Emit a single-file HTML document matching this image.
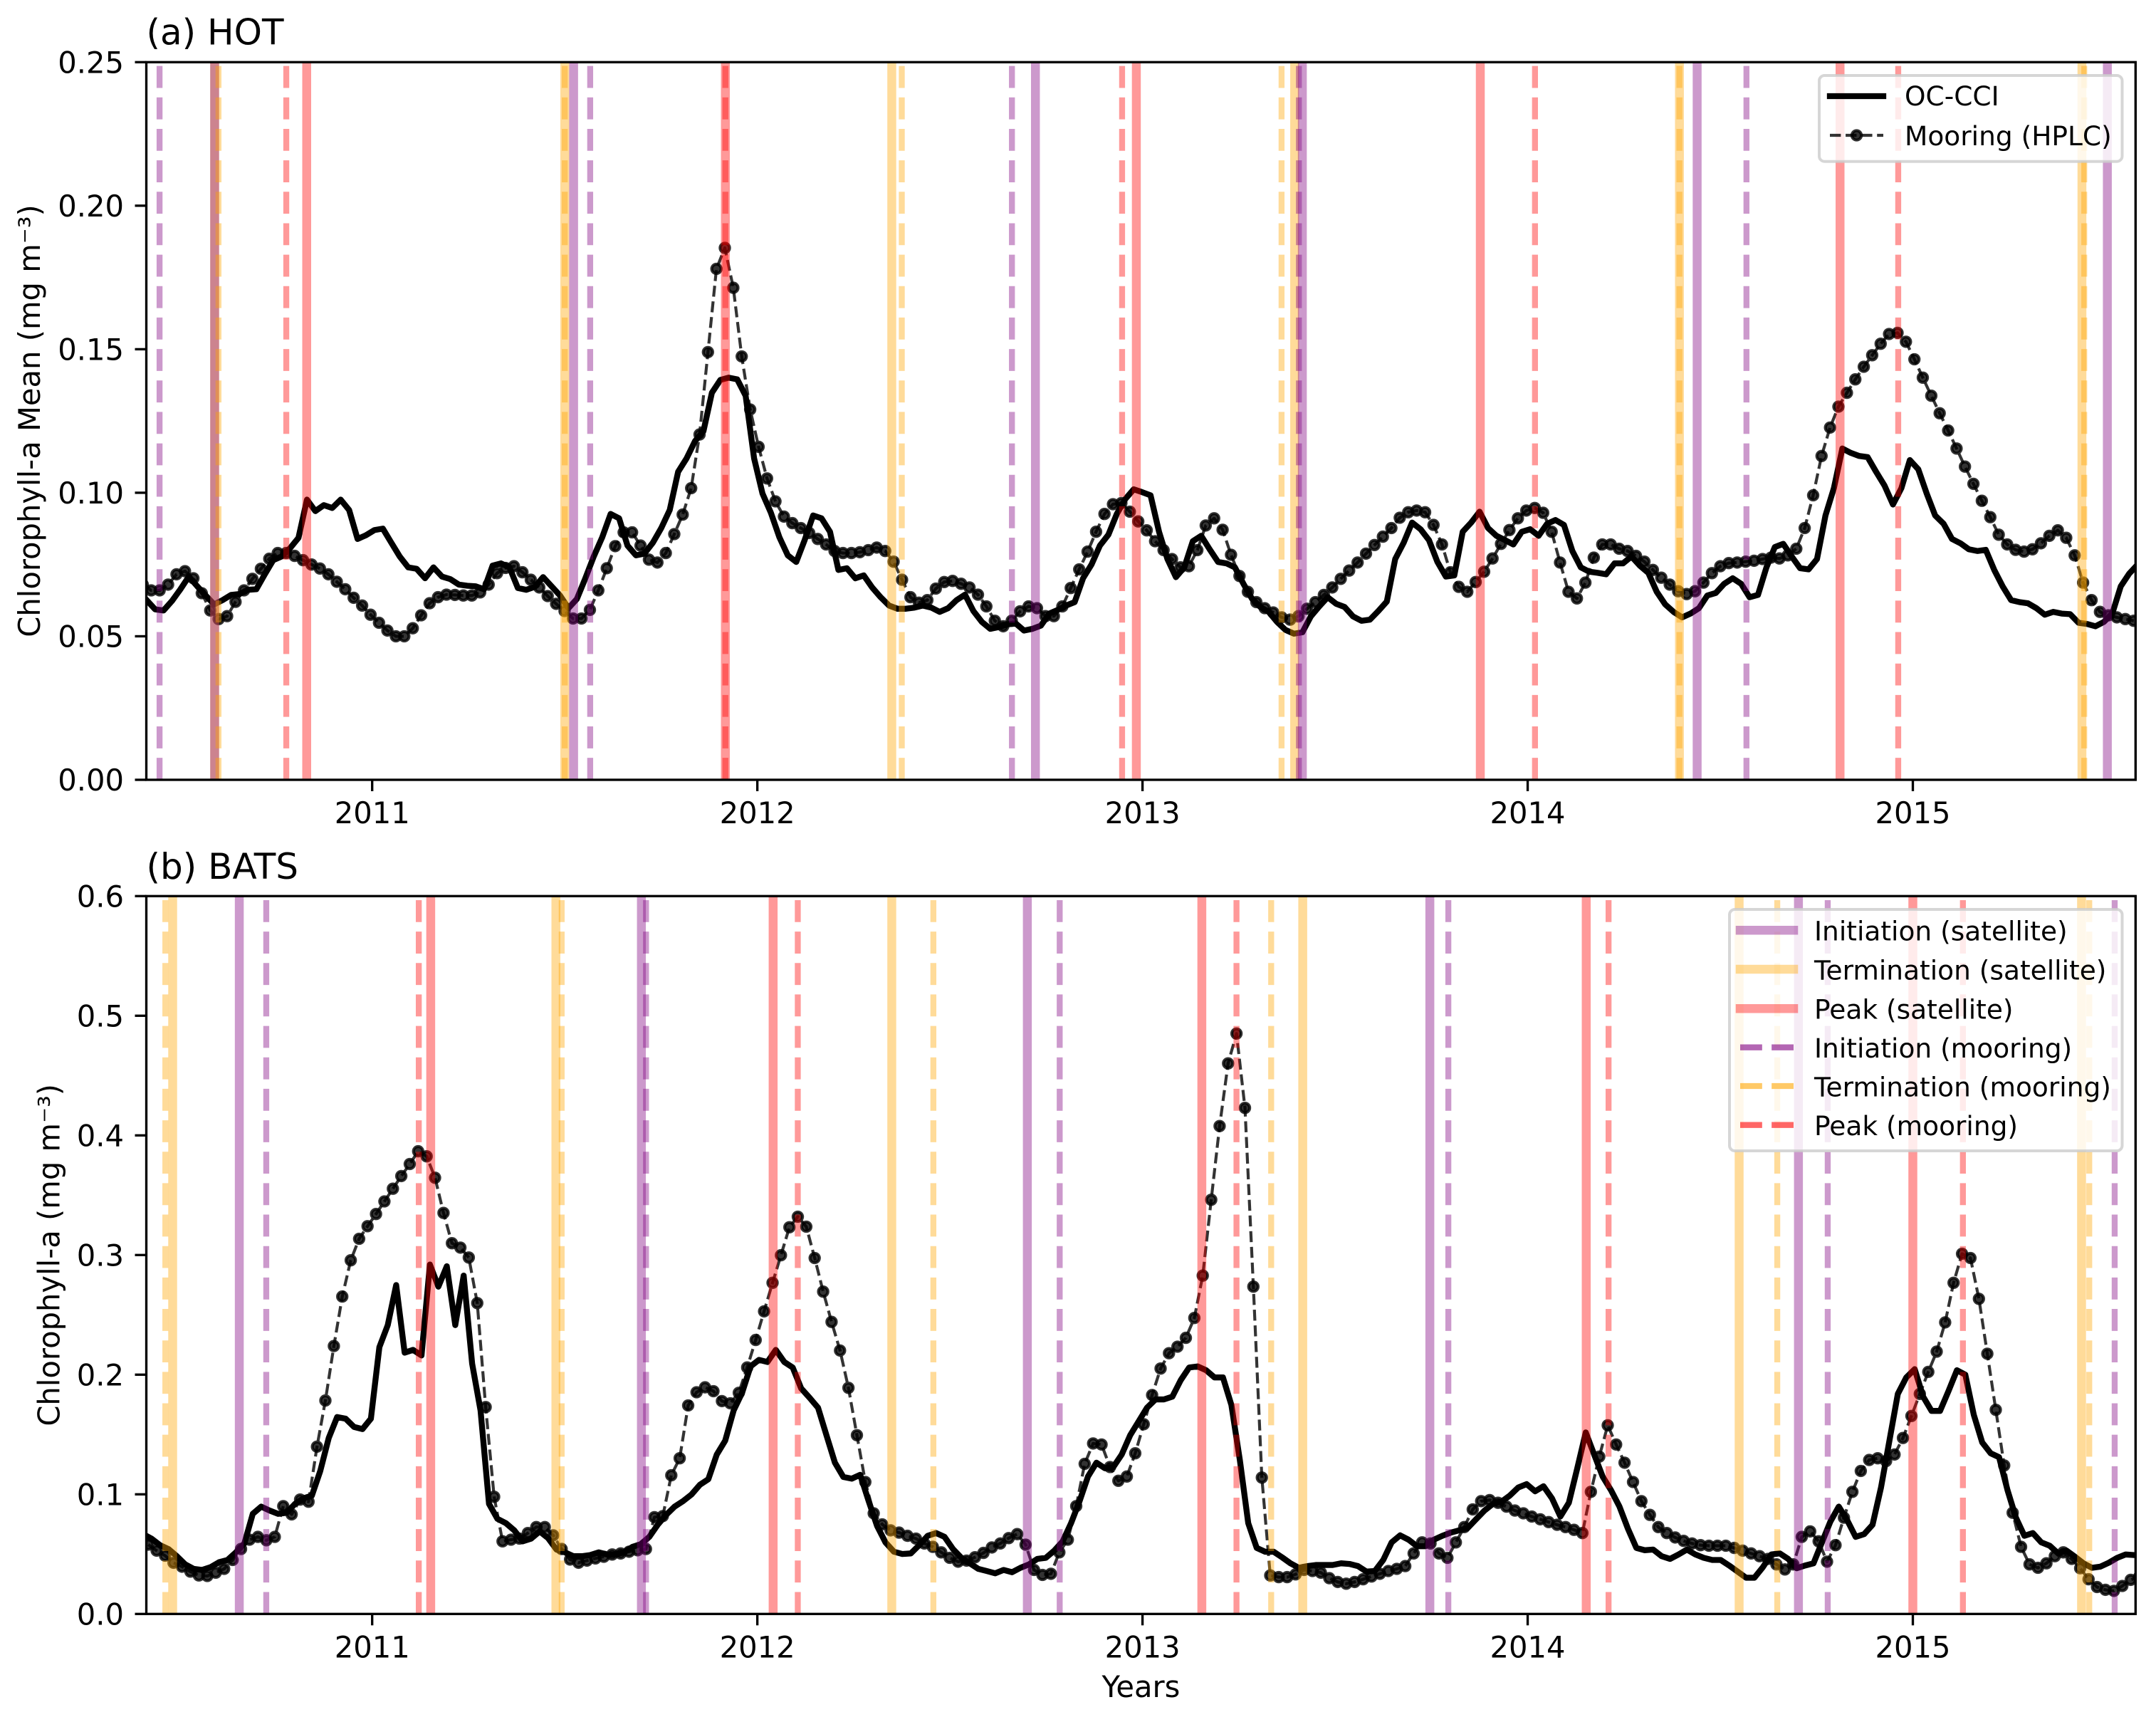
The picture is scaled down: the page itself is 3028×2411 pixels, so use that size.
<!DOCTYPE html>
<html lang="en">
<head>
<meta charset="utf-8">
<title>Chlorophyll-a phenology at HOT and BATS</title>
<style>
html,body{margin:0;padding:0;background:#fff;}
svg{display:block;}
text{font-family:"DejaVu Sans","Liberation Sans",sans-serif;fill:#000;}
</style>
</head>
<body>
<svg id="chart" xmlns="http://www.w3.org/2000/svg" width="3028" height="2411" viewBox="0 0 3028 2411">
  <rect x="0" y="0" width="3028" height="2411" fill="#fff"/>
  <defs>
    <clipPath id="clip-a"><rect x="205.5" y="87.3" width="2793.8" height="1007.7"/></clipPath>
    <clipPath id="clip-b"><rect x="205.5" y="1258.3" width="2793.8" height="1008"/></clipPath>
  </defs>
  <g id="panel-a"></g>
  <g id="panel-b"></g>

  <text x="205.5" y="62.7" font-size="50">(a) HOT</text>
  <text x="205.5" y="1234" font-size="50">(b) BATS</text>
  <text transform="translate(56,591) rotate(-90)" text-anchor="middle" font-size="41.67">Chlorophyll-a Mean (mg m⁻³)</text>
  <text transform="translate(83.5,1762.3) rotate(-90)" text-anchor="middle" font-size="41.67">Chlorophyll-a (mg m⁻³)</text>
  <text x="1602.4" y="2383" text-anchor="middle" font-size="41.67">Years</text>

  <g>
    <rect x="2555" y="106" width="425.5" height="120.7" rx="7.5" ry="7.5" fill="#fff" fill-opacity="0.8" stroke="#ccc" stroke-opacity="0.8" stroke-width="4"/>
    <g>
      <line x1="2570" x2="2645" y1="135" y2="135" stroke="#000" stroke-width="8.33" stroke-linecap="square"/>
      <text x="2675" y="148" font-size="37.5">OC-CCI</text>
    </g>
    <g>
      <line x1="2570" x2="2645" y1="190" y2="190" stroke="#000" stroke-opacity="0.8" stroke-width="4.17" stroke-dasharray="15.4 6.67"/>
      <circle cx="2607.5" cy="190" r="6.6" fill="#000" fill-opacity="0.8" stroke="#000" stroke-opacity="0.8" stroke-width="4.17"/>
      <text x="2675" y="204" font-size="37.5">Mooring (HPLC)</text>
    </g>
  </g>

  <g>
    <rect x="2429" y="1277" width="551.5" height="339" rx="7.5" ry="7.5" fill="#fff" fill-opacity="0.8" stroke="#ccc" stroke-opacity="0.8" stroke-width="4"/>
    <g>
      <line x1="2444" x2="2519" y1="1306.3" y2="1306.3" stroke="#800080" stroke-opacity="0.4" stroke-width="12.5" stroke-linecap="square"/>
      <text x="2548" y="1320.7" font-size="37.5">Initiation (satellite)</text>
    </g>
    <g>
      <line x1="2444" x2="2519" y1="1361" y2="1361" stroke="#ffa500" stroke-opacity="0.4" stroke-width="12.5" stroke-linecap="square"/>
      <text x="2548" y="1375.4" font-size="37.5">Termination (satellite)</text>
    </g>
    <g>
      <line x1="2444" x2="2519" y1="1416.3" y2="1416.3" stroke="#ff0000" stroke-opacity="0.4" stroke-width="12.5" stroke-linecap="square"/>
      <text x="2548" y="1430.7" font-size="37.5">Peak (satellite)</text>
    </g>
    <g>
      <line x1="2444" x2="2519" y1="1470.7" y2="1470.7" stroke="#800080" stroke-opacity="0.6" stroke-width="8.33" stroke-dasharray="30.83 13.33"/>
      <text x="2548" y="1485.1" font-size="37.5">Initiation (mooring)</text>
    </g>
    <g>
      <line x1="2444" x2="2519" y1="1525" y2="1525" stroke="#ffa500" stroke-opacity="0.6" stroke-width="8.33" stroke-dasharray="30.83 13.33"/>
      <text x="2548" y="1539.4" font-size="37.5">Termination (mooring)</text>
    </g>
    <g>
      <line x1="2444" x2="2519" y1="1579.7" y2="1579.7" stroke="#ff0000" stroke-opacity="0.6" stroke-width="8.33" stroke-dasharray="30.83 13.33"/>
      <text x="2548" y="1594.1" font-size="37.5">Peak (mooring)</text>
    </g>
  </g>
</svg>

<script>
// ---- shared axis data ----
const xTickYears = [2011, 2012, 2013, 2014, 2015];
const xTickLabels = ["2011", "2012", "2013", "2014", "2015"];
const hotYTicks = [0, 0.05, 0.10, 0.15, 0.20, 0.25];
const hotYLabels = ["0.00", "0.05", "0.10", "0.15", "0.20", "0.25"];
const batsYTicks = [0, 0.1, 0.2, 0.3, 0.4, 0.5, 0.6];
const batsYLabels = ["0.0", "0.1", "0.2", "0.3", "0.4", "0.5", "0.6"];
const compositeStepYears = 8 / 365.25;

// ---- HOT series (8-day values, mg m-3) ----
const hotSatelliteStart = 2010.4145;
const hotSatellite = [
.0626,.0594,.059,.0623,.0664,.0708,.0674,.0642,.0611,.0626,.0644,.0647,.0662,.0664,.0716,.0765,.0778,.0807,.0843,.0976,
.0936,.0957,.0947,.0976,.094,.0839,.0852,.087,.0875,.0826,.0778,.074,.0735,.0702,.074,.0708,.0699,.068,.0676,.0674,
.0664,.0746,.0754,.074,.0668,.0662,.0672,.0706,.0674,.0642,.0598,.063,.0702,.0778,.0845,.0926,.0911,.0816,.0782,.0788,
.0826,.0877,.094,.1073,.112,.118,.1215,.1348,.1393,.1401,.1395,.1338,.112,.0997,.093,.0845,.0782,.0759,.0835,.0921,
.0911,.0864,.0731,.0737,.0702,.0712,.067,.0636,.0607,.0596,.0596,.06,.0607,.06,.0585,.0598,.0626,.0645,.0588,.055,
.0526,.0532,.0541,.0545,.052,.0526,.0537,.0579,.0592,.0607,.0619,.0702,.075,.0816,.0854,.0926,.0978,.1012,.1002,.0991,
.0864,.0769,.0706,.074,.0831,.085,.0803,.0759,.0754,.074,.0683,.0632,.0602,.0585,.055,.0522,.0509,.0514,.0569,.0604,
.0636,.0613,.0602,.0569,.0554,.0558,.0588,.0621,.0769,.0826,.0896,.0873,.0835,.0759,.0708,.0712,.0864,.0896,.0934,.0877,
.085,.0835,.082,.0864,.0873,.085,.0892,.0905,.0888,.0797,.074,.0725,.0721,.0716,.0754,.0754,.0778,.0746,.0721,.0655,
.0611,.0585,.0566,.0579,.0598,.0642,.0651,.0683,.0702,.0683,.0636,.0644,.074,.0811,.0822,.0778,.0737,.0733,.0769,.0921,
.1016,.1154,.1139,.1128,.1124,.1073,.1025,.0959,.1016,.1114,.1082,.0997,.0921,.0892,.0839,.0824,.0803,.0797,.0801,.0731,
.0674,.0626,.0619,.0615,.0598,.0575,.0585,.0579,.0577,.0547,.0543,.0535,.055,.0579,.0674,.0718,.075
];
const hotMooringStart = 2010.4044;
const hotMooring = [
.068,.066,.066,.068,.0716,.0727,.0702,.065,.059,.056,.057,.062,.066,.07,.0735,.077,.079,.079,.078,.0765,
.075,.0736,.0716,.069,.0664,.0634,.0607,.0575,.0547,.052,.05,.05,.0528,.0573,.0615,.0636,.0645,.0644,.0642,.0642,
.0653,.068,.072,.0738,.0744,.0723,.0697,.067,.064,.0613,.0588,.0562,.0562,.0592,.066,.0737,.0814,.0862,.0862,.0816,
.0767,.0757,.079,.0856,.0924,.1016,.1203,.149,.178,.1853,.1714,.1475,.129,.116,.105,.097,.0917,.0894,.0877,.086,
.0839,.082,.0797,.079,.079,.0793,.08,.0809,.0797,.076,.0697,.0636,.0617,.0626,.0666,.0689,.0693,.0683,.067,.0645,
.0604,.0554,.0535,.0554,.0587,.0604,.0598,.057,.057,.0604,.0668,.0733,.0795,.0864,.0926,.096,.0964,.0934,.09,.0869,
.0831,.08,.0769,.074,.0744,.08,.0886,.0911,.0871,.0784,.071,.0655,.0619,.0598,.0583,.0566,.0558,.057,.0596,.0619,
.0644,.067,.07,.0729,.0757,.0788,.0818,.0847,.0877,.0913,.0932,.0938,.0932,.0888,.082,.0723,.0672,.0655,.0689,.0725,
.0771,.0822,.087,.0911,.0938,.0947,.093,.0864,.0757,.0655,.0632,.0687,.0774,.082,.082,.0805,.0797,.078,.076,.0731,
.0704,.068,.0657,.0647,.0657,.0687,.072,.0744,.0755,.0757,.076,.0763,.0769,.0774,.0771,.0782,.0805,.0877,.0991,.1128,
.1227,.13,.1348,.1395,.1439,.1479,.1519,.1553,.1557,.1526,.1465,.1401,.1338,.1277,.1217,.1154,.1091,.1031,.0972,.0915,
.0854,.082,.0801,.0795,.0803,.0824,.085,.0869,.0843,.0782,.0687,.0626,.0585,.0573,.0566,.056,.0554
];

// ---- BATS series (8-day values, mg m-3) ----
const batsSatelliteStart = 2010.4053;
const batsSatellite = [
.0667,.063,.0575,.0543,.0483,.0414,.0377,.0368,.0391,.0432,.0451,.0515,.0589,.0837,.0897,.0864,.0837,.0846,.092,.0966,
.0989,.1195,.1471,.1646,.1632,.1563,.1545,.1632,.223,.2414,.2749,.2184,.2207,.2161,.292,.2736,.2906,.2414,.2828,.2092,
.1701,.092,.0795,.0759,.0699,.0607,.063,.069,.0634,.0538,.0515,.0483,.0483,.0492,.0515,.0497,.0497,.0515,.0561,.0584,
.0644,.0745,.0828,.0897,.0943,.0998,.108,.1126,.1333,.1448,.1701,.1848,.2069,.2124,.2106,.2207,.2106,.206,.1885,.1807,
.1724,.1494,.1264,.1145,.1131,.1163,.0943,.0736,.0598,.052,.0501,.0506,.0575,.0653,.0676,.0644,.0543,.0469,.0423,.0377,
.0359,.034,.0368,.0349,.0386,.0414,.046,.0469,.0529,.0607,.0759,.0943,.1149,.1264,.1218,.1228,.1333,.1494,.1609,.1724,
.1793,.1793,.1816,.1954,.206,.2069,.2037,.1977,.1977,.1747,.1287,.0759,.0552,.052,.052,.0474,.0423,.0386,.04,.0409,
.0409,.0409,.0423,.0418,.04,.0354,.0359,.0451,.0598,.0657,.0621,.0566,.0566,.0621,.0653,.068,.0699,.0717,.0791,.0864,
.092,.0938,.0989,.1057,.1085,.1025,.1067,.0966,.0814,.0929,.1218,.1517,.1333,.1149,.1034,.0897,.0713,.0552,.0533,.0538,
.0483,.046,.0497,.0538,.0497,.0469,.0451,.0451,.0405,.0354,.0303,.0303,.0391,.0497,.0506,.046,.0382,.0405,.0423,.0598,
.0772,.0897,.0782,.0644,.0667,.0745,.1057,.1448,.1839,.1977,.2046,.1816,.1697,.1697,.1862,.2037,.2,.1664,.1434,.1343,
.131,.1034,.0805,.0653,.0676,.0598,.057,.0506,.0529,.0478,.0423,.0386,.0395,.0428,.0469,.0497,.0492
];
const batsMooringStart = 2010.4186;
const batsMooring = [
.0579,.0529,.0487,.0428,.0395,.0354,.0322,.0317,.0345,.0377,.0451,.0543,.0621,.0644,.0616,.0644,.0901,.0832,.0956,.0938,
.1398,.1784,.2239,.2653,.2956,.3136,.3241,.3343,.3448,.3554,.366,.3761,.3867,.3825,.3646,.3352,.3099,.3062,.2979,.2598,
.1729,.0979,.0607,.0621,.063,.0676,.0726,.0726,.0657,.0543,.0455,.0428,.0446,.0464,.0478,.0497,.0506,.052,.0533,.0543,
.0809,.0818,.1159,.1301,.1743,.1853,.1894,.1862,.1779,.1761,.1848,.206,.229,.2529,.2768,.2998,.3232,.332,.3237,.2975,
.2694,.2441,.2202,.189,.1494,.1103,.0841,.0749,.0699,.068,.0653,.063,.0589,.0561,.0515,.0469,.0437,.0446,.0474,.051,
.0556,.0589,.0634,.0667,.0579,.0368,.0326,.0336,.0515,.0621,.0901,.1255,.1425,.1416,.1228,.1113,.1149,.1343,.1586,.183,
.2051,.2179,.2234,.2308,.2474,.2828,.3462,.4078,.4602,.4851,.423,.2736,.114,.0322,.0308,.0308,.0331,.0368,.0359,.0345,
.0299,.0267,.0253,.0267,.029,.0313,.0336,.0359,.0377,.04,.0506,.0598,.0589,.0506,.0469,.0598,.0726,.0874,.0943,.0952,
.0929,.0897,.0864,.0841,.0814,.0791,.0768,.0745,.0726,.0703,.0676,.1021,.1315,.1577,.1416,.1264,.1103,.0943,.0828,.0726,
.0676,.0639,.0611,.0589,.0575,.057,.057,.057,.0552,.0529,.0506,.0483,.046,.0414,.0372,.0414,.0644,.069,.0607,.0437,
.0575,.0805,.1021,.1195,.1287,.1301,.1278,.1333,.1471,.1655,.1839,.2023,.2193,.2437,.2768,.3011,.2975,.2634,.2175,.1706,
.1241,.0846,.0561,.0414,.0386,.0423,.0483,.0515,.046,.0382,.029,.0225,.0202,.0193,.0234,.0285,.031
];

// ---- phenology event dates (decimal years) ----
const hotInitSatellite = [2010.591, 2011.523, 2012.722, 2013.415, 2014.440, 2015.505];
const hotTermSatellite = [2010.591, 2011.500, 2012.349, 2013.395, 2014.394, 2015.439];
const hotPeakSatellite = [2010.830, 2011.917, 2012.984, 2013.877, 2014.811];
const hotInitMooring = [2010.448, 2011.566, 2012.661, 2013.406, 2014.568];
const hotTermMooring = [2010.601, 2011.500, 2012.375, 2013.361, 2014.394, 2015.445];
const hotPeakMooring = [2010.777, 2011.917, 2012.947, 2014.019, 2014.962];

const batsInitSatellite = [2010.655, 2011.699, 2012.701, 2013.746, 2014.703];
const batsTermSatellite = [2010.482, 2011.477, 2012.349, 2013.416, 2014.549, 2015.438];
const batsPeakSatellite = [2011.152, 2012.041, 2013.154, 2014.152, 2015.000];
const batsInitMooring = [2010.725, 2011.711, 2012.785, 2013.794, 2014.779, 2015.524];
const batsTermMooring = [2010.463, 2011.492, 2012.457, 2013.334, 2014.648, 2015.458];
const batsPeakMooring = [2011.121, 2012.105, 2013.244, 2014.210, 2015.130];

// ---- axis functions ----
const PLOT_LEFT = 205.5, PLOT_RIGHT = 2999.3;
function xScale(year) { return 522.7 + 540.95 * (year - 2011); }
function hotY(v) { return 1095 - (v / 0.25) * 1007.7; }
function batsY(v) { return 2266.3 - (v / 0.6) * 1008; }

const NS = "http://www.w3.org/2000/svg";
function mk(parent, tag, attrs) {
  const el = document.createElementNS(NS, tag);
  for (const k in attrs) el.setAttribute(k, attrs[k]);
  parent.appendChild(el);
  return el;
}

function drawSeries(parent, clipId, yScale, prefix, satStart, sat, moorStart, moor) {
  const g = mk(parent, "g", { "clip-path": "url(#" + clipId + ")" });
  
  

  const satPts = sat.map((v, i) => xScale(satStart + i * compositeStepYears).toFixed(1) + "," + yScale(v).toFixed(1));
  const satLine = mk(g, "polyline", { points: satPts.join(" "), fill: "none", stroke: "#000", "stroke-width": 8.33, "stroke-linejoin": "round", "stroke-linecap": "square" });
  
  

  const moorPts = moor.map((v, i) => xScale(moorStart + i * compositeStepYears).toFixed(1) + "," + yScale(v).toFixed(1));
  const moorLine = mk(g, "polyline", { points: moorPts.join(" "), fill: "none", stroke: "#000", "stroke-opacity": 0.8, "stroke-width": 4.17, "stroke-dasharray": "15.4 6.67", "stroke-linejoin": "round" });
  
  

  moor.forEach((v, i) => {
    const c = mk(g, "circle", { cx: xScale(moorStart + i * compositeStepYears).toFixed(1), cy: yScale(v).toFixed(1), r: 6.6, fill: "#000", "fill-opacity": 0.8, stroke: "#000", "stroke-opacity": 0.8, "stroke-width": 4.17 });
    
    
  });
}

function drawEvents(parent, clipId, top, bottom, prefix, groups) {
  const g = mk(parent, "g", { "clip-path": "url(#" + clipId + ")" });
  
  
  groups.forEach(grp => {
    grp.dates.forEach(d => {
      const x = xScale(d);
      const attrs = { x1: x, x2: x, y1: bottom, y2: top, stroke: grp.color, "stroke-opacity": 0.4, "stroke-width": grp.dashed ? 8.33 : 12.5 };
      if (grp.dashed) attrs["stroke-dasharray"] = "30.83 13.33";
      const l = mk(g, "line", attrs);
      
      
    });
  });
}

function drawAxes(parent, top, bottom, yScale, yTicks, yLabels, prefix) {
  const g = mk(parent, "g", {});
  
  

  xTickYears.forEach((yr, i) => {
    const x = xScale(yr);
    const t = mk(g, "line", { x1: x, x2: x, y1: bottom, y2: bottom + 16, stroke: "#000", "stroke-width": 3.33 });
    
    
    const lb = mk(g, "text", { x: x, y: bottom + 61, "text-anchor": "middle", "font-size": 41.67 });
    lb.textContent = xTickLabels[i];
    
    
  });
  yTicks.forEach((v, i) => {
    const y = yScale(v);
    const t = mk(g, "line", { x1: PLOT_LEFT - 16, x2: PLOT_LEFT, y1: y, y2: y, stroke: "#000", "stroke-width": 3.33 });
    
    
    const lb = mk(g, "text", { x: 174, y: y + 15.2, "text-anchor": "end", "font-size": 41.67 });
    lb.textContent = yLabels[i];
    
    
  });
  const frame = mk(g, "rect", { x: PLOT_LEFT, y: top, width: PLOT_RIGHT - PLOT_LEFT, height: bottom - top, fill: "none", stroke: "#000", "stroke-width": 3.33 });
  
  
}

const panelA = document.getElementById("panel-a");
const panelB = document.getElementById("panel-b");

drawSeries(panelA, "clip-a", hotY, "hot", hotSatelliteStart, hotSatellite, hotMooringStart, hotMooring);
drawEvents(panelA, "clip-a", 87.3, 1095, "hot", [
  { name: "termination-satellite", dates: hotTermSatellite, color: "#ffa500", dashed: false },
  { name: "initiation-satellite", dates: hotInitSatellite, color: "#800080", dashed: false },
  { name: "peak-satellite", dates: hotPeakSatellite, color: "#ff0000", dashed: false },
  { name: "initiation-mooring", dates: hotInitMooring, color: "#800080", dashed: true },
  { name: "termination-mooring", dates: hotTermMooring, color: "#ffa500", dashed: true },
  { name: "peak-mooring", dates: hotPeakMooring, color: "#ff0000", dashed: true }
]);
drawAxes(panelA, 87.3, 1095, hotY, hotYTicks, hotYLabels, "hot");

drawSeries(panelB, "clip-b", batsY, "bats", batsSatelliteStart, batsSatellite, batsMooringStart, batsMooring);
drawEvents(panelB, "clip-b", 1258.3, 2266.3, "bats", [
  { name: "termination-satellite", dates: batsTermSatellite, color: "#ffa500", dashed: false },
  { name: "initiation-satellite", dates: batsInitSatellite, color: "#800080", dashed: false },
  { name: "peak-satellite", dates: batsPeakSatellite, color: "#ff0000", dashed: false },
  { name: "initiation-mooring", dates: batsInitMooring, color: "#800080", dashed: true },
  { name: "termination-mooring", dates: batsTermMooring, color: "#ffa500", dashed: true },
  { name: "peak-mooring", dates: batsPeakMooring, color: "#ff0000", dashed: true }
]);
drawAxes(panelB, 1258.3, 2266.3, batsY, batsYTicks, batsYLabels, "bats");
</script>
</body>
</html>
